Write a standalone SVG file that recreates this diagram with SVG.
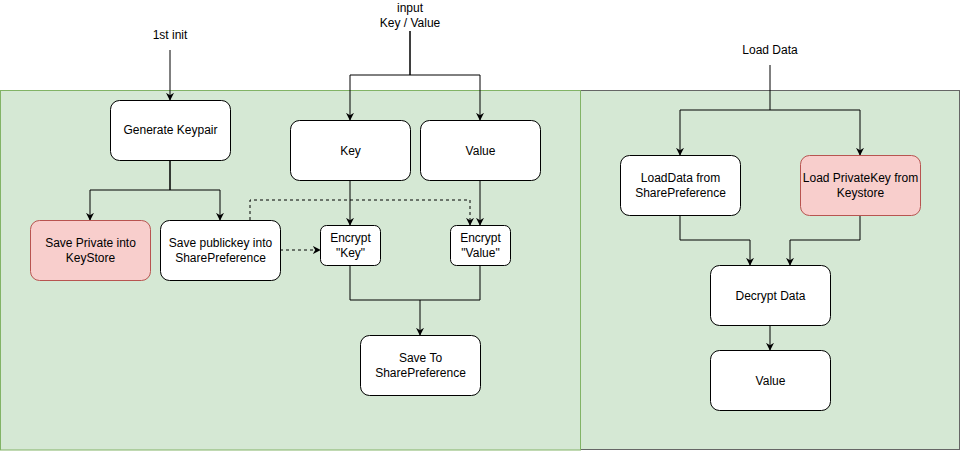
<svg xmlns="http://www.w3.org/2000/svg" width="961" height="451" viewBox="0 0 961 451">
<defs>
<style>
text{font-family:"Liberation Sans",Arial,sans-serif;font-size:12px;fill:#000;text-anchor:middle}
.n{fill:#fff;stroke:#000;stroke-width:1}
.r{fill:#f8cecc;stroke:#b85450;stroke-width:1}
.e{fill:none;stroke:#000;stroke-width:1}
.d{fill:none;stroke:#000;stroke-width:1;stroke-dasharray:3 3}
</style>
<marker id="a" viewBox="0 0 10 10" refX="9" refY="5" markerWidth="8" markerHeight="8" markerUnits="userSpaceOnUse" orient="auto">
<path d="M0,0 L10,5 L0,10 L3,5 Z" fill="#000"/>
</marker>
</defs>
<rect width="961" height="451" fill="#fff"/>
<g id="panel-right"><rect x="580.5" y="90.5" width="379" height="359" fill="#d5e8d4" stroke="#666666"/></g>
<g id="panel-left"><rect x="0.5" y="90.5" width="580" height="359.5" fill="#d5e8d4" stroke="#82b366"/></g>

<g id="labels">
<text x="170" y="39">1st init</text>
<text x="410" y="12">input</text>
<text x="410" y="27">Key / Value</text>
<text x="770" y="54">Load Data</text>
</g>

<g id="connectors">
<path class="e" d="M170,50 V100" marker-end="url(#a)"/>
<path class="e" d="M170,160 V190 H90 V220" marker-end="url(#a)"/>
<path class="e" d="M170,160 V190 H220 V220" marker-end="url(#a)"/>
<path class="e" d="M410,31 V75 H350 V120" marker-end="url(#a)"/>
<path class="e" d="M410,31 V75 H480 V120" marker-end="url(#a)"/>
<path class="e" d="M350,180 V225" marker-end="url(#a)"/>
<path class="e" d="M480,180 V225" marker-end="url(#a)"/>
<path class="d" d="M250,220 V200 H470 V225" marker-end="url(#a)"/>
<path class="d" d="M280,250 H320" marker-end="url(#a)"/>
<path class="e" d="M350,265 V300 H480 V265"/>
<path class="e" d="M420,300 V335" marker-end="url(#a)"/>
<path class="e" d="M770,65 V110 H680 V155" marker-end="url(#a)"/>
<path class="e" d="M770,110 H860 V155" marker-end="url(#a)"/>
<path class="e" d="M680,215 V240 H750 V265" marker-end="url(#a)"/>
<path class="e" d="M860,215 V240 H790 V265" marker-end="url(#a)"/>
<path class="e" d="M770,325 V350" marker-end="url(#a)"/>
</g>

<g id="generate-keypair"><rect class="n" x="110.5" y="100.5" width="120" height="60" rx="9"/><text x="170.5" y="134">Generate Keypair</text></g>
<g id="save-private"><rect class="r" x="30.5" y="220.5" width="120" height="60" rx="9"/><text x="90.5" y="247">Save Private into</text><text x="90.5" y="262">KeyStore</text></g>
<g id="save-publickey"><rect class="n" x="160.5" y="220.5" width="120" height="60" rx="9"/><text x="220.5" y="247">Save publickey into</text><text x="220.5" y="262">SharePreference</text></g>
<g id="key"><rect class="n" x="290.5" y="120.5" width="120" height="60" rx="9"/><text x="350.5" y="155">Key</text></g>
<g id="value-in"><rect class="n" x="420.5" y="120.5" width="120" height="60" rx="9"/><text x="480.5" y="155">Value</text></g>
<g id="encrypt-key"><rect class="n" x="320.5" y="225.5" width="60" height="40" rx="6"/><text x="350.5" y="242">Encrypt</text><text x="350.5" y="257">"Key"</text></g>
<g id="encrypt-value"><rect class="n" x="450.5" y="225.5" width="60" height="40" rx="6"/><text x="480.5" y="242">Encrypt</text><text x="480.5" y="257">"Value"</text></g>
<g id="save-to"><rect class="n" x="360.5" y="335.5" width="120" height="60" rx="9"/><text x="420.5" y="362">Save To</text><text x="420.5" y="377">SharePreference</text></g>
<g id="loaddata"><rect class="n" x="620.5" y="155.5" width="120" height="60" rx="9"/><text x="680.5" y="182">LoadData from</text><text x="680.5" y="197">SharePreference</text></g>
<g id="load-privatekey"><rect class="r" x="800.5" y="155.5" width="120" height="60" rx="9"/><text x="860.5" y="182">Load PrivateKey from</text><text x="860.5" y="197">Keystore</text></g>
<g id="decrypt"><rect class="n" x="710.5" y="265.5" width="120" height="60" rx="9"/><text x="770.5" y="300">Decrypt Data</text></g>
<g id="value-out"><rect class="n" x="710.5" y="350.5" width="120" height="60" rx="9"/><text x="770.5" y="385">Value</text></g>
</svg>
